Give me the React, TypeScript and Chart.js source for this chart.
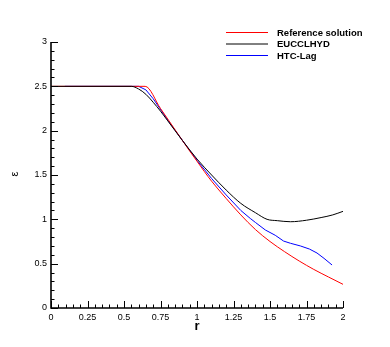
import React, { useEffect, useRef } from "react";
import { Chart, registerables } from "chart.js";

Chart.register(...registerables);

// ---- data ----
const refR = [0, 0.645, 0.75, 0.85, 0.95, 1.0, 1.05, 1.1, 1.2, 1.3, 1.4, 1.5, 1.6, 1.7, 1.8, 1.9, 2.0];
const refE = [2.5, 2.5, 2.25, 2.01, 1.77, 1.655, 1.54, 1.43, 1.235, 1.05, 0.885, 0.75, 0.635, 0.53, 0.435, 0.35, 0.267];

const eucR = [0, 0.55, 0.6, 0.65, 0.7, 0.75, 0.8, 0.9, 1.0, 1.1, 1.2, 1.3, 1.4, 1.48, 1.55, 1.64, 1.75, 1.85, 1.93, 2.0];
const eucE = [2.5, 2.5, 2.47, 2.41, 2.32, 2.22, 2.11, 1.89, 1.68, 1.5, 1.33, 1.18, 1.075, 1.0, 0.985, 0.973, 0.99, 1.02, 1.05, 1.09];

const htcR = [0.095, 0.6, 0.65, 0.7, 0.8, 0.9, 1.0, 1.1, 1.2, 1.3, 1.365, 1.4, 1.468, 1.536, 1.593, 1.64, 1.708, 1.77, 1.822, 1.87, 1.925];
const htcE = [2.5, 2.5, 2.46, 2.36, 2.12, 1.89, 1.665, 1.46, 1.275, 1.1, 1.01, 0.965, 0.88, 0.82, 0.755, 0.73, 0.7, 0.665, 0.62, 0.56, 0.485];

const seriesNames = ["Reference solution", "EUCCLHYD", "HTC-Lag"];
const seriesColors = ["#ff0000", "#000000", "#0000ff"];

const xTicks = [0, 0.25, 0.5, 0.75, 1, 1.25, 1.5, 1.75, 2];
const yTicks = [0, 0.5, 1, 1.5, 2, 2.5, 3];
const xMinor = 0.05;
const yMinor = 0.1;
const xTitle = "r";
const yTitle = "ε";

const FONT = "'Liberation Sans', Arial, Helvetica, sans-serif";

const toPts = (xs: number[], ys: number[]) => xs.map((v, i) => ({ x: v, y: ys[i] }));

const decorPlugin = {
  id: "decor",
  afterDraw(chart: any) {
    const { ctx, chartArea, scales } = chart;
    const { left, right, top, bottom } = chartArea;
    const xs = scales.x, ys = scales.y;
    const xMin = xTicks[0], xMax = xTicks[xTicks.length - 1];
    const yMin = yTicks[0], yMax = yTicks[yTicks.length - 1];
    ctx.save();
    ctx.strokeStyle = "#000";
    ctx.lineWidth = 1;
    const nx = Math.round((xMax - xMin) / xMinor);
    const perX = Math.round((xTicks[1] - xTicks[0]) / xMinor);
    for (let i = 0; i <= nx; i++) {
      const px = Math.round(xs.getPixelForValue(xMin + i * xMinor)) + 0.5;
      const len = i % perX === 0 ? 7 : 3.5;
      ctx.beginPath();
      ctx.moveTo(px, bottom);
      ctx.lineTo(px, bottom - len);
      ctx.stroke();
    }
    const ny = Math.round((yMax - yMin) / yMinor);
    const perY = Math.round((yTicks[1] - yTicks[0]) / yMinor);
    for (let i = 0; i <= ny; i++) {
      const py = Math.round(ys.getPixelForValue(yMin + i * yMinor)) + 0.5;
      const len = i % perY === 0 ? 7 : 3.5;
      ctx.beginPath();
      ctx.moveTo(left, py);
      ctx.lineTo(left + len, py);
      ctx.stroke();
    }
    ctx.lineWidth = 1.6;
    ctx.beginPath();
    ctx.moveTo(left, top);
    ctx.lineTo(left, bottom);
    ctx.lineTo(right, bottom);
    ctx.stroke();

    // axis titles
    ctx.fillStyle = "#000";
    ctx.font = `bold 13px ${FONT}`;
    ctx.textAlign = "center";
    ctx.textBaseline = "middle";
    ctx.fillText(xTitle, (left + right) / 2, 326);
    ctx.save();
    ctx.translate(15, 174);
    ctx.rotate(-Math.PI / 2);
    ctx.font = `11px ${FONT}`;
    ctx.fillText(yTitle, 0, 0);
    ctx.restore();

    // legend
    ctx.font = `bold 9.5px ${FONT}`;
    ctx.textAlign = "left";
    ctx.textBaseline = "middle";
    const rows = [32.5, 44, 55.5];
    seriesNames.forEach((name, i) => {
      ctx.strokeStyle = seriesColors[i];
      ctx.lineWidth = 1;
      ctx.beginPath();
      ctx.moveTo(226, rows[i]);
      ctx.lineTo(268, rows[i]);
      ctx.stroke();
      ctx.fillStyle = "#000";
      ctx.fillText(name, 277, rows[i] + 0.5);
    });
    ctx.restore();
  },
};

const fmt = (v: any) => String(Math.round(Number(v) * 100) / 100);

export default function App() {
  const ref = useRef<HTMLCanvasElement | null>(null);
  useEffect(() => {
    document.body.style.margin = "0";
    const canvas = ref.current;
    if (!canvas) return;
    const chart = new Chart(canvas, {
      type: "line",
      data: {
        datasets: [
          { label: seriesNames[1], data: toPts(eucR, eucE), borderColor: seriesColors[1], borderWidth: 1, pointRadius: 0, fill: false, cubicInterpolationMode: "monotone" },
          { label: seriesNames[0], data: toPts(refR, refE), borderColor: seriesColors[0], borderWidth: 1, pointRadius: 0, fill: false, cubicInterpolationMode: "monotone" },
          { label: seriesNames[2], data: toPts(htcR, htcE), borderColor: seriesColors[2], borderWidth: 1, pointRadius: 0, fill: false, tension: 0 },
        ],
      },
      options: {
        responsive: false,
        animation: false,
        layout: { padding: { left: 0, top: 42, right: 47, bottom: 0 } },
        plugins: { legend: { display: false }, tooltip: { enabled: false } },
        scales: {
          x: {
            type: "linear",
            min: xTicks[0],
            max: xTicks[xTicks.length - 1],
            grid: { display: false, drawTicks: false },
            border: { display: false },
            ticks: { padding: 4, color: "#000", font: { family: FONT, size: 9 }, maxRotation: 0, autoSkip: false, callback: fmt },
            afterBuildTicks: (s: any) => { s.ticks = xTicks.map((v) => ({ value: v })); },
            afterFit: (s: any) => { s.height = 39; },
          },
          y: {
            type: "linear",
            min: yTicks[0],
            max: yTicks[yTicks.length - 1],
            grid: { display: false, drawTicks: false },
            border: { display: false },
            ticks: { padding: 4, color: "#000", font: { family: FONT, size: 9 }, autoSkip: false, callback: fmt },
            afterBuildTicks: (s: any) => { s.ticks = yTicks.map((v) => ({ value: v })); },
            afterFit: (s: any) => { s.width = 51; },
          },
        },
      },
      plugins: [decorPlugin],
    });
    return () => chart.destroy();
  }, []);
  return (
    <div style={{ position: "absolute", left: 0, top: 0, width: 390, height: 347, background: "#fff" }}>
      <canvas ref={ref} width={390} height={347} />
    </div>
  );
}
